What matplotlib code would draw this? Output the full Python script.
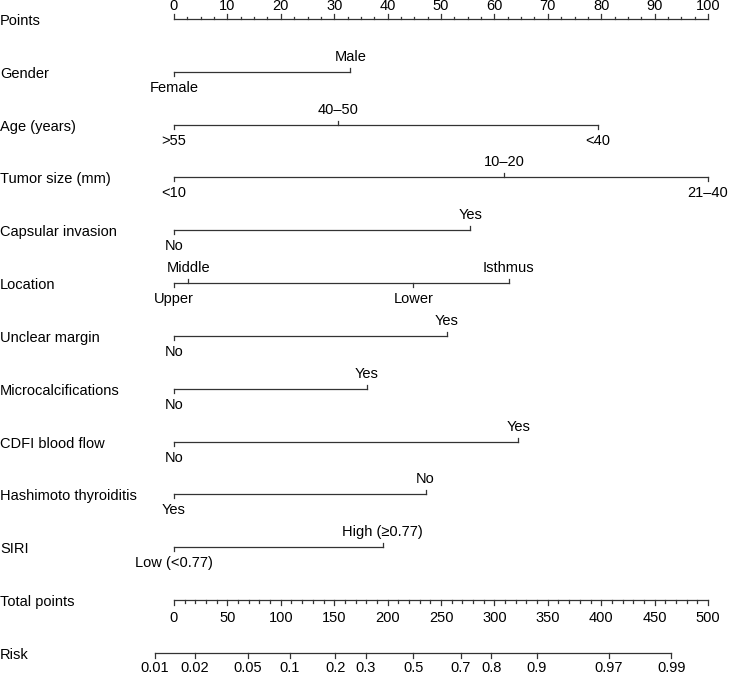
import numpy as np
import matplotlib.pyplot as plt

plt.rcParams['font.family'] = ['Liberation Sans', 'DejaVu Sans']

# row names, top to bottom
rows = ["Points", "Gender", "Age (years)", "Tumor size (mm)", "Capsular invasion",
        "Location", "Unclear margin", "Microcalcifications", "CDFI blood flow",
        "Hashimoto thyroiditis", "SIRI", "Total points", "Risk"]

# points for each level of each predictor
gender_lv = ["Female", "Male"]
gender_pt = [0, 33.0]
age_lv = [">55", "40\u201350", "<40"]
age_pt = [0, 30.7, 79.4]
size_lv = ["<10", "10\u201320", "21\u201340"]
size_pt = [0, 61.8, 100]
caps_lv = ["No", "Yes"]
caps_pt = [0, 55.5]
loc_lv = ["Upper", "Middle", "Lower", "Isthmus"]
loc_pt = [0, 2.7, 44.8, 62.7]
margin_lv = ["No", "Yes"]
margin_pt = [0, 51.1]
micro_lv = ["No", "Yes"]
micro_pt = [0, 36.1]
cdfi_lv = ["No", "Yes"]
cdfi_pt = [0, 64.5]
hashi_lv = ["Yes", "No"]
hashi_pt = [0, 47.1]
siri_lv = ["Low (<0.77)", "High (\u22650.77)"]
siri_pt = [0, 39.1]
# which labels sit above the line (1) or below (0)
gender_up = [0, 1]
age_up = [0, 1, 0]
size_up = [0, 1, 0]
loc_up = [0, 1, 0, 1]
yn_up = [0, 1]

total_ticks = np.arange(0, 501, 50)
risk_ticks = [0.01, 0.02, 0.05, 0.1, 0.2, 0.3, 0.5, 0.7, 0.8, 0.9, 0.97, 0.99]
risk_mid = 224.0     # total points where risk = 0.5
risk_scale = 52.6    # total points per logit unit

predictors = [
    (gender_lv, gender_pt, gender_up),
    (age_lv, age_pt, age_up),
    (size_lv, size_pt, size_up),
    (caps_lv, caps_pt, yn_up),
    (loc_lv, loc_pt, loc_up),
    (margin_lv, margin_pt, yn_up),
    (micro_lv, micro_pt, yn_up),
    (cdfi_lv, cdfi_pt, yn_up),
    (hashi_lv, hashi_pt, yn_up),
    (siri_lv, siri_pt, yn_up),
]

W, H = 730, 676
x0, ppx = 174, 5.34   # pixel of 0 points, pixels per point
fig = plt.figure(figsize=(W / 100, H / 100), dpi=100)
ax = fig.add_axes([0, 0, 1, 1])
ax.set_xlim(-x0 / ppx, (W - x0) / ppx)
ax.set_ylim(H, 0)
ax.axis('off')

lc = '#333333'
lw = 0.9
fs = 10.5
step = 52.83
ys = [19 + step * i for i in range(len(rows))]

for name, y in zip(rows, ys):
    ax.text(-x0 / ppx, y + 2, name, fontsize=fs, va='center', ha='left')

# Points axis
y = ys[0]
ax.plot([0, 100], [y, y], color=lc, lw=lw)
for v in np.arange(0, 100.1, 2.5):
    major = v % 10 == 0
    ax.plot([v, v], [y, y - (5 if major else 2.5)], color=lc, lw=lw)
    if major:
        ax.text(v, y - 13, f"{int(v)}", fontsize=fs, ha='center', va='center')

# predictor rows
for (lv, pt, up), y in zip(predictors, ys[1:11]):
    ax.plot([min(pt), max(pt)], [y, y], color=lc, lw=lw)
    for lab, p, u in zip(lv, pt, up):
        if u:
            ax.plot([p, p], [y, y - 4], color=lc, lw=lw)
            ax.text(p, y - 15, lab, fontsize=fs, ha='center', va='center')
        else:
            ax.plot([p, p], [y, y + 4], color=lc, lw=lw)
            ax.text(p, y + 16, lab, fontsize=fs, ha='center', va='center')

# Total points axis
y = ys[11]
ax.plot([0, 100], [y, y], color=lc, lw=lw)
for v in np.arange(0, 501, 10):
    major = v % 50 == 0
    ax.plot([v / 5, v / 5], [y, y + (5 if major else 3)], color=lc, lw=lw)
for v in total_ticks:
    ax.text(v / 5, y + 18, f"{v}", fontsize=fs, ha='center', va='center')

# Risk axis
y = ys[12]
rp = [(risk_mid + risk_scale * np.log(p / (1 - p))) / 5 for p in risk_ticks]
ax.plot([rp[0], rp[-1]], [y, y], color=lc, lw=lw)
for p, xp in zip(risk_ticks, rp):
    ax.plot([xp, xp], [y, y + 5], color=lc, lw=lw)
    ax.text(xp, y + 15, f"{p:g}", fontsize=fs, ha='center', va='center')

fig.savefig("out.png", dpi=100)
